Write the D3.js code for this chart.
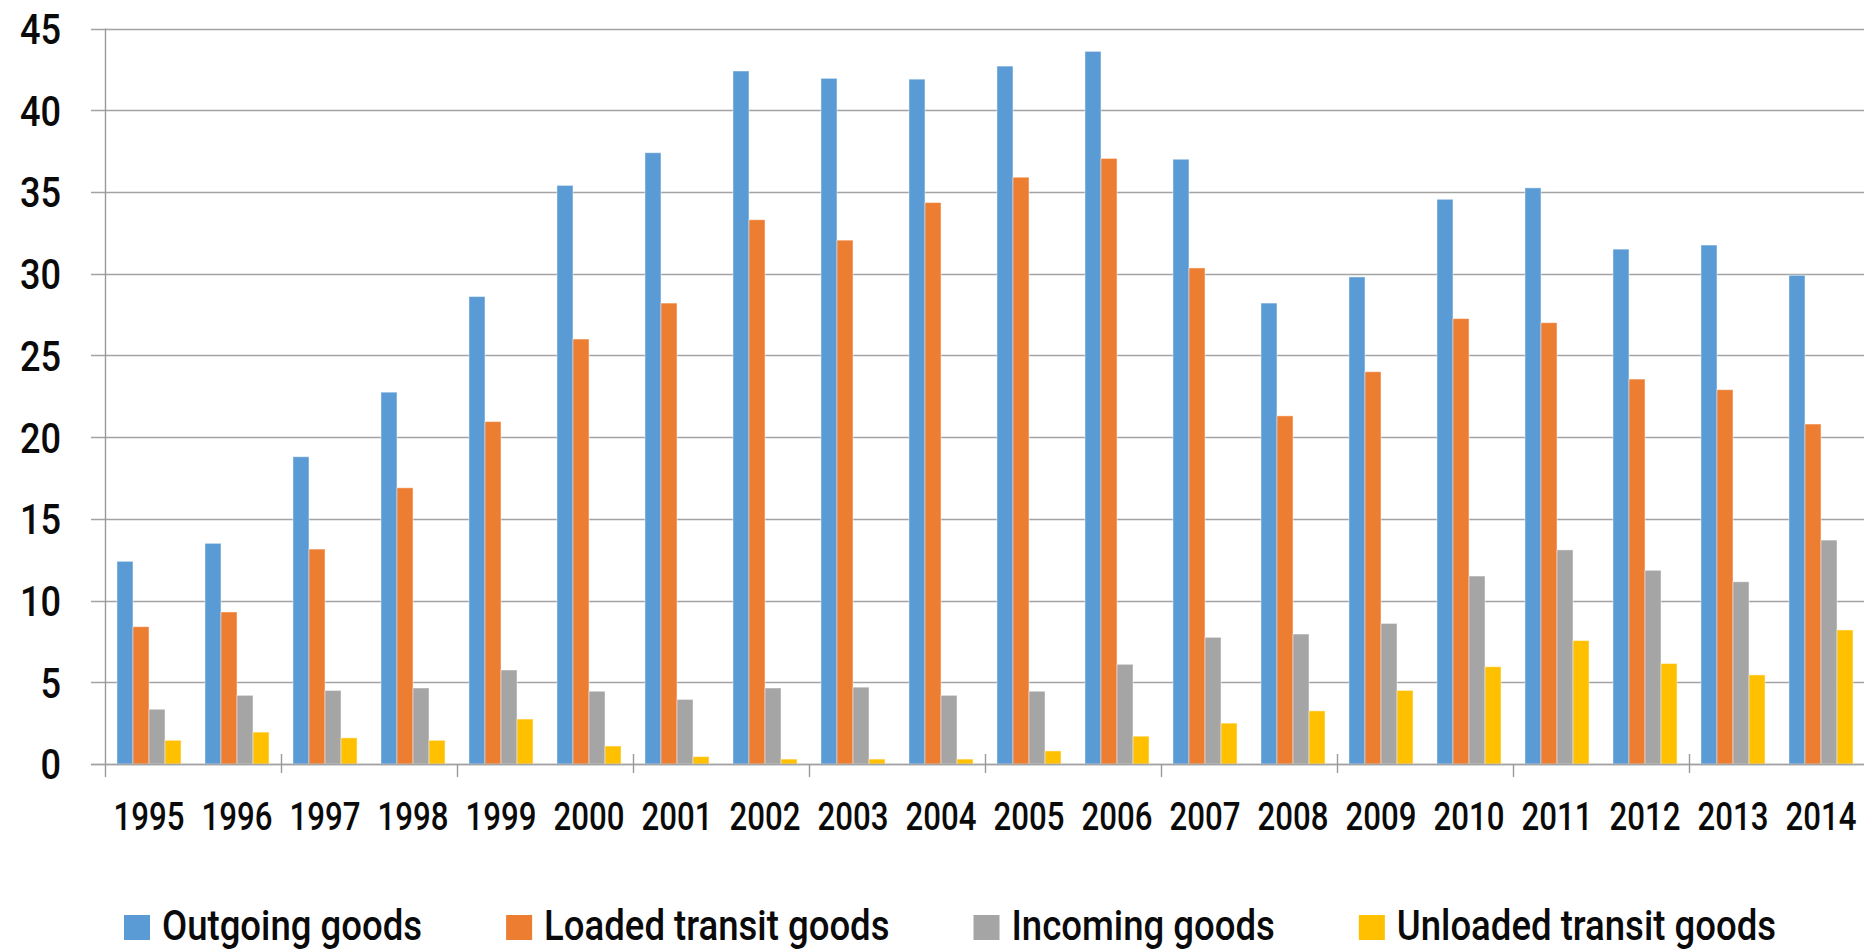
<!DOCTYPE html>
<html>
<head>
<meta charset="utf-8">
<script src="https://cdn.jsdelivr.net/npm/d3@7"></script>
<style>
  html, body { margin: 0; padding: 0; background: #fff; }
  svg { display: block; }
  text { font-family: Roboto, "Noto Sans", sans-serif; fill: #0a0a0a; font-weight: 500; }
</style>
</head>
<body>
<svg id="chart" width="1864" height="952"></svg>
<script>
// Goods volumes by year, four series
const years = ["1995","1996","1997","1998","1999","2000","2001","2002","2003","2004",
               "2005","2006","2007","2008","2009","2010","2011","2012","2013","2014"];
const seriesNames = ["Outgoing goods", "Loaded transit goods", "Incoming goods", "Unloaded transit goods"];
const outgoing  = [12.4, 13.5, 18.8, 22.75, 28.6, 35.4, 37.4, 42.4, 41.95, 41.9, 42.7, 43.6, 37.0, 28.2, 29.8, 34.55, 35.25, 31.5, 31.75, 29.9];
const loaded    = [8.4, 9.3, 13.15, 16.9, 20.95, 26.0, 28.2, 33.3, 32.05, 34.35, 35.9, 37.05, 30.35, 21.3, 24.0, 27.25, 27.0, 23.55, 22.9, 20.8];
const incoming  = [3.35, 4.2, 4.5, 4.65, 5.75, 4.45, 3.95, 4.65, 4.7, 4.2, 4.45, 6.1, 7.75, 7.95, 8.6, 11.5, 13.1, 11.85, 11.15, 13.7];
const unloaded  = [1.45, 1.95, 1.6, 1.45, 2.75, 1.1, 0.45, 0.3, 0.3, 0.3, 0.8, 1.7, 2.5, 3.25, 4.5, 5.95, 7.55, 6.15, 5.45, 8.2];
const yTicks = [0, 5, 10, 15, 20, 25, 30, 35, 40, 45];
const colors = ["#5B9BD5", "#ED7D31", "#A5A5A5", "#FFC000"];

const seriesValues = [outgoing, loaded, incoming, unloaded];
const rows = years.map((yr, i) => ({ year: yr, values: seriesValues.map(s => s[i]) }));

const svg = d3.select("#chart");
const plot = { left: 105, right: 1865, top: 28.5, bottom: 764 };

const x = d3.scaleBand().domain(years).range([plot.left, plot.right]).paddingInner(0).paddingOuter(0);
const step = x.step();
const xSub = d3.scaleBand().domain(d3.range(seriesNames.length))
  .range([step * 0.136, step * 0.864]).padding(0);
const y = d3.scaleLinear().domain([0, 45]).range([plot.bottom, plot.top]);

// horizontal gridlines (with short tick stubs left of the axis)
svg.append("g").selectAll("line").data(yTicks).join("line")
  .attr("x1", plot.left - 14).attr("x2", 1864)
  .attr("y1", d => Math.round(y(d)) + 0.5).attr("y2", d => Math.round(y(d)) + 0.5)
  .attr("stroke", "#a3a3a3").attr("stroke-width", 1.4);

// bars
const groups = svg.append("g").selectAll("g").data(rows).join("g")
  .attr("transform", d => `translate(${x(d.year)},0)`);
groups.selectAll("rect").data(d => d.values.map((v, k) => ({ k, v }))).join("rect")
  .attr("x", d => xSub(d.k))
  .attr("width", xSub.bandwidth())
  .attr("y", d => y(d.v))
  .attr("height", d => y(0) - y(d.v))
  .attr("fill", d => colors[d.k])
  .attr("stroke", "rgba(255,255,255,0.45)")
  .attr("stroke-width", 1);

// value axis line
svg.append("line")
  .attr("x1", plot.left + 0.5).attr("x2", plot.left + 0.5)
  .attr("y1", y(45)).attr("y2", plot.bottom + 13)
  .attr("stroke", "#999").attr("stroke-width", 1.4);

// category axis line
svg.append("line")
  .attr("x1", plot.left - 14).attr("x2", 1864)
  .attr("y1", Math.round(y(0)) + 0.5).attr("y2", Math.round(y(0)) + 0.5)
  .attr("stroke", "#a3a3a3").attr("stroke-width", 1.4);

// category tick marks every second year
const tickYears = years.filter((d, i) => i % 2 === 0 && i > 0);
svg.append("g").selectAll("line").data(tickYears).join("line")
  .attr("x1", d => x(d) + 0.5).attr("x2", d => x(d) + 0.5)
  .attr("y1", (d, i) => i % 2 === 0 ? y(0) - 10 : y(0))
  .attr("y2", (d, i) => i % 2 === 0 ? y(0) + 9 : y(0) + 13)
  .attr("stroke", "#999").attr("stroke-width", 1.4);

// value labels
svg.append("g").selectAll("text").data(yTicks).join("text")
  .attr("transform", d => `translate(61,${y(d)}) scale(0.84,1)`)
  .attr("text-anchor", "end")
  .attr("dy", "0.36em")
  .attr("font-size", 43)
  .text(d => d);

// year labels
svg.append("g").selectAll("text").data(years).join("text")
  .attr("transform", d => `translate(${x(d) + step / 2},830) scale(0.8,1)`)
  .attr("text-anchor", "middle")
  .attr("font-size", 39)
  .text(d => d);

// legend
const legend = svg.append("g");
let lx = 124;
seriesNames.forEach((name, k) => {
  legend.append("rect")
    .attr("x", lx).attr("y", 915).attr("width", 26).attr("height", 25)
    .attr("fill", colors[k]);
  const t = legend.append("text")
    .attr("transform", `translate(${lx + 38},940) scale(0.85,1)`)
    .attr("font-size", 43)
    .text(name);
  const w = t.node().getComputedTextLength() * 0.85;
  lx += 38 + w + 84;
});
</script>
</body>
</html>
